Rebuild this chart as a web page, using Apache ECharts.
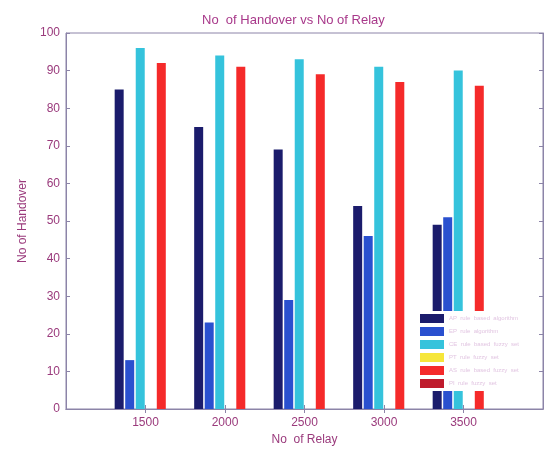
<!DOCTYPE html>
<html><head><meta charset="utf-8">
<script src="https://cdn.jsdelivr.net/npm/echarts@6/dist/echarts.min.js"></script>
<style>html,body{margin:0;padding:0;background:#fff}#c{width:549px;height:451px}</style>
</head><body><div id="c"></div>
<script>
const categories = ['1000','1500','2000','2500','3000','3500','4000'];
const seriesNames = ['AP  rule  based  algorithm','EP  rule  algorithm','CE  rule  based  fuzzy  set','PT  rule  fuzzy  set','AS  rule  based  fuzzy  set','PI  rule  fuzzy  set'];
const navy   = [null, 85, 75, 69, 54, 49, null];
const blue   = [null, 13, 23, 29, 46, 51, null];
const cyan   = [null, 96, 94, 93, 91, 90, null];
const yellow = [null, 0, 0, 0, 0, 0, null];
const red    = [null, 92, 91, 89, 87, 86, null];
const darkred= [null, 0, 0, 0, 0, 0, null];
const colors = ['#1b1c6c','#2a50cf','#35c3dc','#f6e63a','#f52a2a','#bf1b2c'];
const values = [navy, blue, cyan, yellow, red, darkred];
const txt = '#9a3a7c';
const axisCol = '#8c84a8';

const chart = echarts.init(document.getElementById('c'));
chart.setOption({
  animation:false,
  color: colors,
  title:{text:'No  of Handover vs No of Relay', left:197, top:9,
    textStyle:{color:'#a8388a', fontSize:13, fontWeight:'normal', fontFamily:'Liberation Sans'}},
  grid:{left:66, right:6, top:33, bottom:40, show:true, borderColor:axisCol, borderWidth:1},
  legend:{orient:'vertical', left:416, top:311, itemWidth:24, itemHeight:9, itemGap:4,
    backgroundColor:'#fff', padding:[3,4,3,4],
    itemStyle:{borderWidth:0},
    textStyle:{color:'#e2c6e2', fontSize:6, lineHeight:9, fontFamily:'Liberation Sans'},
    data: seriesNames.map(n=>({name:n, icon:'rect'}))},
  xAxis:[{type:'category', data:categories, boundaryGap:false,
    axisLine:{lineStyle:{color:axisCol}},
    axisTick:{inside:true, length:4, lineStyle:{color:axisCol},
      interval:(i)=> i>0 && i<categories.length-1},
    axisLabel:{color:txt, fontSize:12, fontFamily:'Liberation Sans', margin:8,
      formatter:(v,i)=> (i>0 && i<categories.length-1) ? v : ''},
    name:'No  of Relay', nameLocation:'middle', nameGap:25,
    nameTextStyle:{color:txt, fontSize:12, fontFamily:'Liberation Sans'}},
    {type:'category', data:categories, boundaryGap:false, position:'top',
    axisLine:{lineStyle:{color:axisCol}},
    axisTick:{inside:true, length:4, lineStyle:{color:axisCol},
      interval:(i)=> i>0 && i<categories.length-1},
    axisLabel:{show:false}}],
  yAxis:[{type:'value', min:0, max:100, interval:10,
    axisLine:{show:true, lineStyle:{color:axisCol}},
    axisTick:{show:true, inside:true, length:4, lineStyle:{color:axisCol}},
    splitLine:{show:false},
    axisLabel:{color:txt, fontSize:12, fontFamily:'Liberation Sans', margin:6},
    name:'No of Handover', nameLocation:'middle', nameGap:31,
    nameTextStyle:{color:txt, fontSize:12, fontFamily:'Liberation Sans'}},
    {type:'value', min:0, max:100, interval:10, position:'right',
    axisLine:{show:true, lineStyle:{color:axisCol}},
    axisTick:{show:true, inside:true, length:4, lineStyle:{color:axisCol}},
    splitLine:{show:false}, axisLabel:{show:false}}],
  series: values.map((d,i)=>({
    name: seriesNames[i], type:'bar', data:d, xAxisIndex:0, yAxisIndex:0,
    barWidth:9, barGap:'17%',
    itemStyle:{color:colors[i]}
  }))
});
</script></body></html>
